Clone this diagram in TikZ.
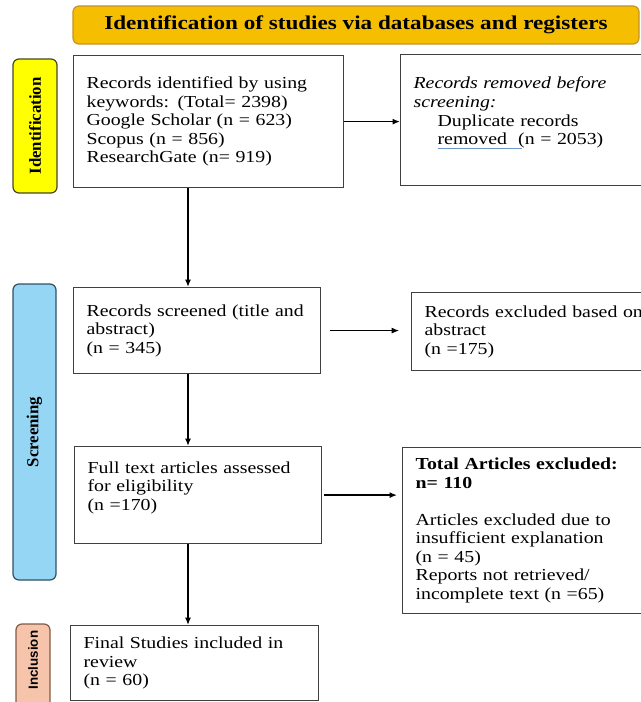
\documentclass[tikz,border=0pt]{standalone}
\usepackage{fontspec}
\setmainfont{Liberation Serif}[FakeStretch=1.18]
\newfontfamily\barserif{Liberation Serif}
\newfontfamily\barsans{Liberation Sans}
\usetikzlibrary{arrows.meta}
\newlength\pxu
\setlength\pxu{0.75pt}
\definecolor{headfill}{RGB}{246,190,0}
\definecolor{headdraw}{RGB}{196,146,40}
\definecolor{idfill}{RGB}{255,255,0}
\definecolor{iddraw}{RGB}{70,70,40}
\definecolor{scrfill}{RGB}{150,214,245}
\definecolor{scrdraw}{RGB}{50,80,100}
\definecolor{incfill}{RGB}{246,196,170}
\definecolor{incdraw}{RGB}{130,90,70}
\definecolor{spellblue}{RGB}{110,150,200}

\begin{document}
\begin{tikzpicture}[x=\pxu, y=-\pxu,
  box/.style={draw=black!75, line width=0.9pt, anchor=north west, align=left,
    inner xsep=13\pxu, inner ysep=0pt, font=\fontsize{12.6}{13.9}\selectfont},
  phase/.style={line width=0.9pt, rounded corners=4.5pt, inner sep=0pt,
    font=\barserif\bfseries\fontsize{12.6}{14}\selectfont},
  flow/.style={-{Latex[length=5.5pt,width=4.5pt]}, line width=1.3pt}]
  \useasboundingbox (0,0) rectangle (641,702);
  \clip (0,0) rectangle (641,702);
  % Titre
  \node[draw=headdraw, fill=headfill, line width=0.9pt, rounded corners=4.5pt,
    minimum width=566\pxu, minimum height=38\pxu,
    font=\bfseries\fontsize{14.7}{16}\selectfont] (head) at (356,25)
    {Identification of studies via databases and registers};
  % Phases
  \node[phase, rotate=90, draw=iddraw, fill=idfill,
    minimum width=134\pxu, minimum height=44\pxu] (idbar) at (35,126) {Identification};
  \node[phase, rotate=90, draw=scrdraw, fill=scrfill,
    minimum width=296\pxu, minimum height=43\pxu] (scrbar) at (34.5,432) {Screening};
  \node[phase, rotate=90, draw=incdraw, fill=incfill,
    minimum width=96\pxu, minimum height=34\pxu] (incbar) at (33,672) {};
  \node[rotate=90, font=\barsans\bfseries\fontsize{10}{12}\selectfont] (inctext) at (33,660) {Inclusion};
  % Boites
  \node[box, text width=244\pxu, minimum height=132\pxu] (found) at (73,55)
    {Records identified by using\\ keywords: (Total= 2398)\\ Google Scholar (n = 623)\\
     Scopus (n = 856)\\ ResearchGate (n= 919)};
  \node[box, text width=254\pxu, minimum height=131\pxu] (removed) at (400,54)
    {\textit{Records removed before}\\ \textit{screening:}\\
     \hspace*{18pt}Duplicate records\\
     \hspace*{18pt}\rlap{\color{spellblue}\rule[-3pt]{63pt}{0.6pt}}removed\ \ (n = 2053)\\ \mbox{}};
  \node[box, text width=221\pxu, minimum height=86\pxu] (screened) at (73,287)
    {Records screened (title and\\ abstract)\\ (n = 345)};
  \node[box, text width=243\pxu, minimum height=78\pxu] (excluded) at (411,292)
    {Records excluded based on\\ abstract\\ (n =175)};
  \node[box, text width=221\pxu, minimum height=97\pxu] (fulltext) at (74,446)
    {Full text articles assessed\\ for eligibility\\ (n =170)\\ \mbox{}};
  \node[box, text width=252\pxu, minimum height=166\pxu] (dropped) at (402,447)
    {{\bfseries Total Articles excluded:}\\ {\bfseries n= 110}\\[13.9pt]
     Articles excluded due to\\ insufficient explanation\\ (n = 45)\\
     Reports not retrieved/\\ incomplete text (n =65)};
  \node[box, text width=222\pxu, minimum height=75\pxu] (included) at (70,625)
    {Final Studies included in\\ review\\ (n = 60)};
  % Fleches
  \coordinate (spine) at (188,0);
  \draw[flow] (found.east) -- (found.east -| removed.west);
  \draw[flow] (found.south -| spine) -- (screened.north -| spine);
  \draw[flow, line width=0.8pt, shorten <=6.75pt, shorten >=9pt]
    (screened.east) -- (screened.east -| excluded.west);
  \draw[flow] (screened.south -| spine) -- (fulltext.north -| spine);
  \draw[flow, shorten <=1.5pt, shorten >=3.75pt] (fulltext.east) -- (fulltext.east -| dropped.west);
  \draw[flow] (fulltext.south -| spine) -- (included.north -| spine);
\end{tikzpicture}
\end{document}
